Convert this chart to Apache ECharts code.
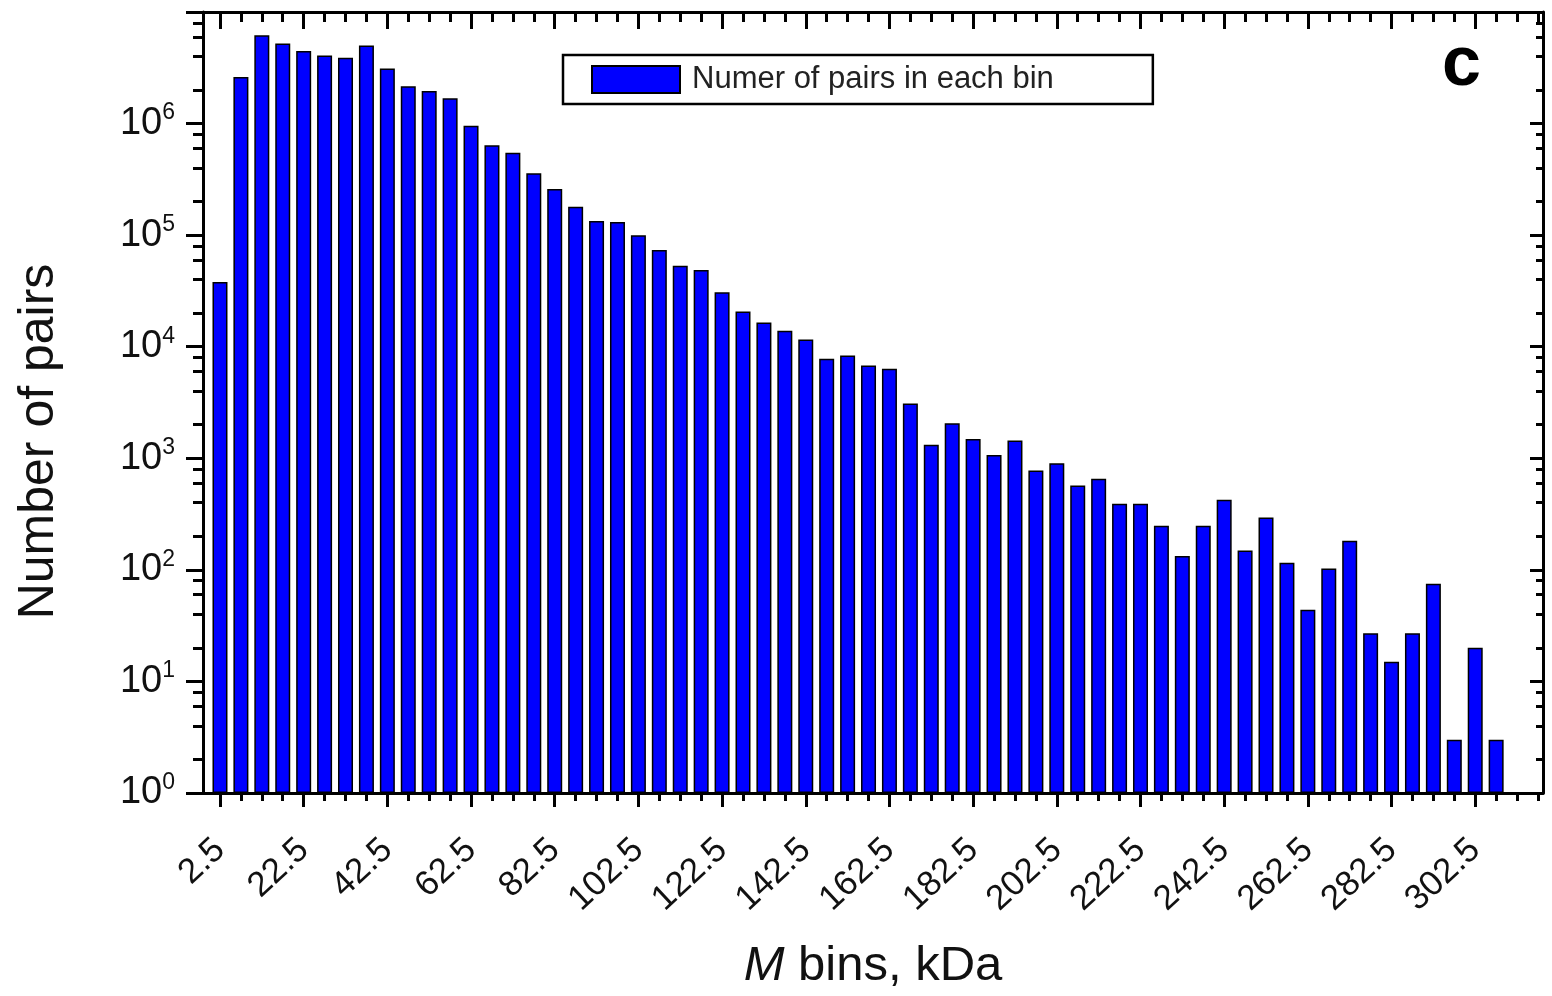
<!DOCTYPE html>
<html>
<head>
<meta charset="utf-8">
<title>Number of pairs per M bin</title>
<script src="https://cdn.jsdelivr.net/npm/echarts@6/dist/echarts.min.js"></script>
<style>
  html, body { margin: 0; padding: 0; background: #fff; }
  #chart { width: 1552px; height: 996px; }
</style>
</head>
<body>
<div id="chart"></div>
<script>
// Bin centres (kDa), 5 kDa wide bins
const binCenters = [
  2.5, 7.5, 12.5, 17.5, 22.5, 27.5, 32.5, 37.5, 42.5, 47.5,
  52.5, 57.5, 62.5, 67.5, 72.5, 77.5, 82.5, 87.5, 92.5, 97.5,
  102.5, 107.5, 112.5, 117.5, 122.5, 127.5, 132.5, 137.5, 142.5, 147.5,
  152.5, 157.5, 162.5, 167.5, 172.5, 177.5, 182.5, 187.5, 192.5, 197.5,
  202.5, 207.5, 212.5, 217.5, 222.5, 227.5, 232.5, 237.5, 242.5, 247.5,
  252.5, 257.5, 262.5, 267.5, 272.5, 277.5, 282.5, 287.5, 292.5, 297.5,
  302.5, 307.5
];

// Number of pairs in each bin
const pairCounts = [
  38000, 2610000, 6180000, 5210000, 4460000, 4080000, 3880000, 5010000, 3120000, 2160000,
  1960000, 1690000, 955000, 638000, 549000, 359000, 259000, 180000, 134000, 131000,
  100000, 73500, 53300, 48800, 30800, 20700, 16500, 13900, 11600, 7800,
  8350, 6800, 6350, 3100, 1320, 2060, 1490, 1070, 1440, 777,
  904, 571, 655, 392, 392, 248, 133, 248, 426, 149,
  294, 116, 44, 103, 182, 27, 15, 27, 75, 3,
  20, 3
];

// Labelled x ticks and the finer per-bin ticks
const xMajorTicks = [2.5, 22.5, 42.5, 62.5, 82.5, 102.5, 122.5, 142.5, 162.5, 182.5,
  202.5, 222.5, 242.5, 262.5, 282.5, 302.5];
const xMinorTicks = [
  2.5, 7.5, 12.5, 17.5, 22.5, 27.5, 32.5, 37.5, 42.5, 47.5,
  52.5, 57.5, 62.5, 67.5, 72.5, 77.5, 82.5, 87.5, 92.5, 97.5,
  102.5, 107.5, 112.5, 117.5, 122.5, 127.5, 132.5, 137.5, 142.5, 147.5,
  152.5, 157.5, 162.5, 167.5, 172.5, 177.5, 182.5, 187.5, 192.5, 197.5,
  202.5, 207.5, 212.5, 217.5, 222.5, 227.5, 232.5, 237.5, 242.5, 247.5,
  252.5, 257.5, 262.5, 267.5, 272.5, 277.5, 282.5, 287.5, 292.5, 297.5,
  302.5, 307.5, 312.5, 317.5
];

// Decades on the log axis and the 2/4/6/8 minor ticks within each decade
const yLabelTicks = [1, 10, 100, 1000, 10000, 100000, 1000000];
const yMajorTicks = [1, 10, 100, 1000, 10000, 100000, 1000000, 10000000];
const yMinorTicks = [
  2, 4, 6, 8, 20, 40, 60, 80, 200, 400, 600, 800,
  2000, 4000, 6000, 8000, 20000, 40000, 60000, 80000,
  200000, 400000, 600000, 800000, 2000000, 4000000, 6000000, 8000000
];

const seriesName = 'Numer of pairs in each bin';
const FONT = '"Liberation Sans", Arial, sans-serif';

const X_MIN = -1.56;
const X_MAX = 318.7;

const chart = echarts.init(document.getElementById('chart'), null, { renderer: 'canvas' });

function xAxisBase(position, ticks, len, inside, show) {
  return {
    type: 'value',
    position: position,
    min: X_MIN,
    max: X_MAX,
    axisLine: { show: show, onZero: false, lineStyle: { color: '#000', width: 3 } },
    axisTick: {
      show: true, inside: inside, length: len, customValues: ticks,
      lineStyle: { color: '#000', width: 3 }
    },
    axisLabel: { show: false },
    splitLine: { show: false }
  };
}

function yAxisBase(position, ticks, len, inside, show) {
  return {
    type: 'log',
    logBase: 10,
    position: position,
    min: 1,
    max: 10000000,
    axisLine: { show: show, onZero: false, lineStyle: { color: '#000', width: 3 } },
    axisTick: {
      show: true, inside: inside, length: len, customValues: ticks,
      lineStyle: { color: '#000', width: 3 }
    },
    axisLabel: { show: false },
    splitLine: { show: false }
  };
}

const xBottom = xAxisBase('bottom', xMajorTicks, 14, false, true);
xBottom.axisLabel = {
  show: true,
  customValues: xMajorTicks,
  rotate: 43,
  margin: 52,
  fontSize: 35,
  fontFamily: FONT,
  color: '#111'
};
xBottom.name = '{i|M} bins, kDa';
xBottom.nameLocation = 'middle';
xBottom.nameGap = 149;
xBottom.nameTextStyle = {
  fontSize: 49,
  fontFamily: FONT,
  color: '#111',
  rich: {
    i: { fontSize: 49, fontFamily: FONT, fontStyle: 'italic', color: '#111' }
  }
};

const yLeft = yAxisBase('left', yMajorTicks, 17, false, true);
yLeft.axisLabel = {
  show: true,
  customValues: yLabelTicks,
  margin: 28,
  fontFamily: FONT,
  color: '#111',
  formatter: function (v) {
    return '{b|10}{s|' + Math.round(Math.log10(v)) + '}';
  },
  rich: {
    b: { fontSize: 38, fontFamily: FONT, color: '#111', lineHeight: 44 },
    s: { fontSize: 23, fontFamily: FONT, color: '#111', lineHeight: 44, verticalAlign: 'top' }
  }
};
yLeft.name = 'Number of pairs';
yLeft.nameLocation = 'middle';
yLeft.nameGap = 139;
yLeft.nameTextStyle = {
  fontSize: 50,
  fontFamily: FONT,
  color: '#111',
  padding: [0, 78, 0, 0]
};

const option = {
  backgroundColor: '#fff',
  animation: false,
  grid: { left: 203, right: 9, top: 12, bottom: 200, containLabel: false },
  title: {
    text: 'c',
    left: 1437,
    top: 26,
    textStyle: { fontSize: 70, fontWeight: 'bold', fontFamily: FONT, color: '#000' }
  },
  legend: {
    data: [seriesName],
    left: 563,
    top: 55,
    itemWidth: 88,
    itemHeight: 27,
    itemGap: 10,
    padding: [9, 99, 9, 28],
    borderColor: '#000',
    borderWidth: 2.5,
    borderRadius: 0,
    backgroundColor: '#fff',
    icon: 'rect',
    textStyle: { fontSize: 31, fontFamily: FONT, color: '#222', padding: [0, 0, 0, 7] }
  },
  xAxis: [
    xBottom,
    xAxisBase('bottom', xMinorTicks, 8, false, false),
    xAxisBase('top', xMajorTicks, 17, true, true),
    xAxisBase('top', xMinorTicks, 10, true, false)
  ],
  yAxis: [
    yLeft,
    yAxisBase('left', yMinorTicks, 10, false, false),
    yAxisBase('right', yMajorTicks, 13, true, true),
    yAxisBase('right', yMinorTicks, 7, true, false)
  ],
  series: [
    {
      name: seriesName,
      type: 'bar',
      xAxisIndex: 0,
      yAxisIndex: 0,
      barWidth: 15,
      data: binCenters.map(function (c, i) { return [c, pairCounts[i]]; }),
      itemStyle: { color: '#0000ff', borderColor: '#000', borderWidth: 1.5 }
    }
  ]
};

chart.setOption(option);
</script>
</body>
</html>
